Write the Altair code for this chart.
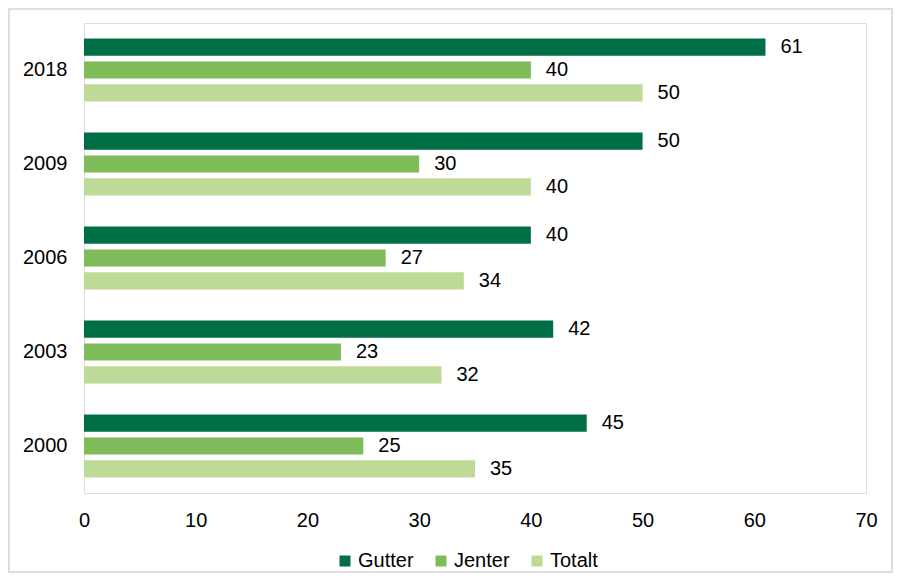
import altair as alt
import pandas as pd

years = ["2018", "2009", "2006", "2003", "2000"]
series = ["Gutter", "Jenter", "Totalt"]
gutter = [61, 50, 40, 42, 45]
jenter = [40, 30, 27, 23, 25]
totalt = [50, 40, 34, 32, 35]
colors = ["#006F45", "#80BB59", "#BEDA97"]

rows = []
for i, y in enumerate(years):
    for s, vals in zip(series, [gutter, jenter, totalt]):
        rows.append({"year": y, "series": s, "value": vals[i]})
df = pd.DataFrame(rows)

FONT = "Liberation Sans"
FS = 20

base = alt.Chart(df).encode(
    y=alt.Y("year:N", sort=years, title=None,
            scale=alt.Scale(paddingInner=0.33, paddingOuter=0.165),
            axis=alt.Axis(ticks=False, domain=False, labelFontSize=FS, labelPadding=17,
                          labelColor="#000000", labelFont=FONT)),
    yOffset=alt.YOffset("series:N", sort=series,
                        scale=alt.Scale(paddingInner=0.25, paddingOuter=0)),
)

bars = base.mark_bar().encode(
    x=alt.X("value:Q", title=None,
            scale=alt.Scale(domain=[0, 70]),
            axis=alt.Axis(values=[0, 10, 20, 30, 40, 50, 60, 70], grid=False, ticks=False,
                          domain=False, labelFontSize=FS, labelPadding=17,
                          labelFlush=False, labelBound=False,
                          labelColor="#000000", labelFont=FONT)),
    color=alt.Color("series:N", sort=series, title=None,
                    scale=alt.Scale(domain=series, range=colors),
                    legend=alt.Legend(orient="none", direction="horizontal",
                                      legendX=251, legendY=528, padding=0,
                                      symbolType="square", symbolSize=121,
                                      symbolStrokeWidth=0, symbolOpacity=1,
                                      labelFontSize=FS, labelFont=FONT,
                                      labelColor="#000000", labelOffset=3,
                                      columnPadding=17)),
)

labels = base.mark_text(align="left", baseline="middle", dx=15, fontSize=FS,
                        font=FONT, color="#000000").encode(
    x=alt.X("value:Q"),
    text=alt.Text("value:Q", format=".0f"),
)

frame = alt.Chart(alt.Data(values=[{"a": 1}])).mark_rect(
    fill="transparent", stroke="#D4D4D4", strokeWidth=1.5
).encode(
    x=alt.value(-75), x2=alt.value(808), y=alt.value(-14), y2=alt.value(549)
)

chart = alt.layer(bars, labels, frame).properties(
    width=782, height=470,
    autosize=alt.AutoSizeParams(type="none"),
    padding={"left": 76, "top": 15, "right": 27, "bottom": 80},
).configure_view(
    stroke="#D9D9D9", strokeWidth=2
).configure(background="white")

chart.save("out.html", embed_options={"renderer": "svg", "actions": False})
